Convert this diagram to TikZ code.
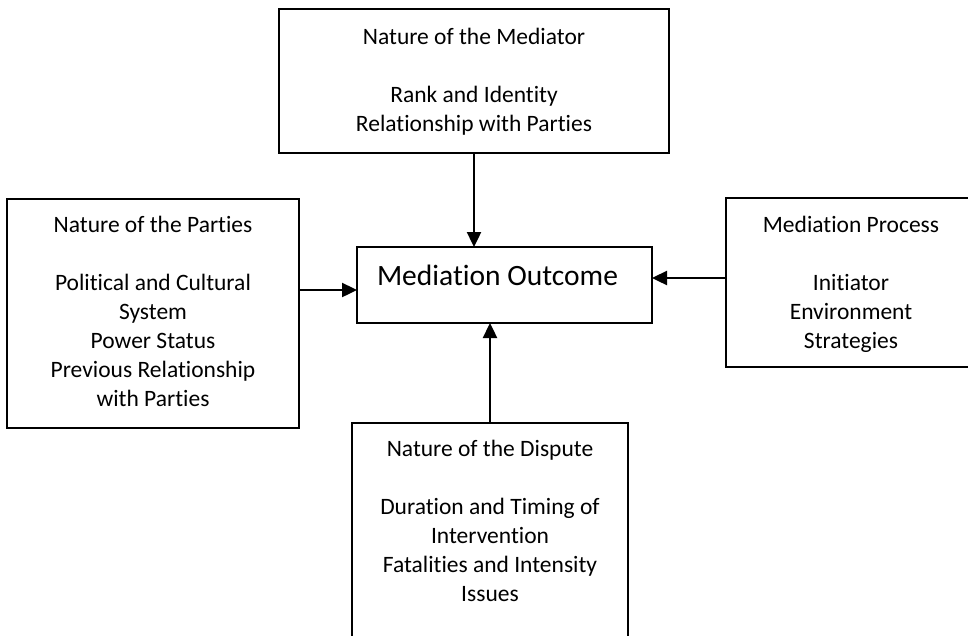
\documentclass[tikz,border=0pt]{standalone}
\usepackage{fontspec}
\setmainfont{Carlito}[Ligatures=NoCommon]
\usetikzlibrary{arrows.meta}
\begin{document}
\begin{tikzpicture}[x=1pt,y=-1pt,
  box/.style={draw=black,line width=2pt,minimum width=#1,inner sep=0pt,outer sep=0pt},
  info/.style={anchor=north,align=center,inner sep=0pt,font=\fontsize{23.5}{29}\selectfont},
  flow/.style={line width=2.4pt,-{Triangle[length=15pt,width=14pt]}}]
  \useasboundingbox (0,0) rectangle (968,635);
  \clip (0,0) rectangle (968,635);

  % boxes
  \node[box=390pt,minimum height=144pt] (mediator) at (474,81) {};
  \node[box=292pt,minimum height=229pt] (parties)  at (153,313.5) {};
  \node[box=295pt,minimum height=76pt]  (outcome)  at (504.5,285) {};
  \node[box=250pt,minimum height=169pt] (process)  at (851,282.5) {};
  \node[box=276pt,minimum height=240pt] (dispute)  at (490,543) {};

  % box texts
  \node[info] (tmediator) at ([yshift=-19pt]mediator.north)
    {Nature of the Mediator\\[29pt]Rank and Identity\\Relationship with Parties};
  \node[info] (tparties) at ([yshift=-17pt]parties.north)
    {Nature of the Parties\\[29pt]Political and Cultural\\System\\Power Status\\Previous Relationship\\with Parties};
  \node[info] (tprocess) at ([yshift=-18pt]process.north)
    {Mediation Process\\[29pt]Initiator\\Environment\\Strategies};
  \node[info] (tdispute) at ([yshift=-17pt]dispute.north)
    {Nature of the Dispute\\[29pt]Duration and Timing of\\Intervention\\Fatalities and Intensity\\Issues};
  \node[anchor=base,inner sep=0pt,font=\fontsize{29.5}{36}\selectfont] (toutcome)
    at ([xshift=-7pt]outcome.center) {Mediation Outcome};

  % connectors
  \coordinate (inleft)  at ([yshift=-5pt]outcome.west);
  \coordinate (inright) at ([yshift=7pt]outcome.east);
  \draw[flow] (mediator.south) -- (outcome.north -| mediator.south);
  \draw[flow] (parties.east |- inleft) -- (inleft);
  \draw[flow] (process.west |- inright) -- (inright);
  \draw[flow] (dispute.north) -- (outcome.south -| dispute.north);
\end{tikzpicture}
\end{document}
